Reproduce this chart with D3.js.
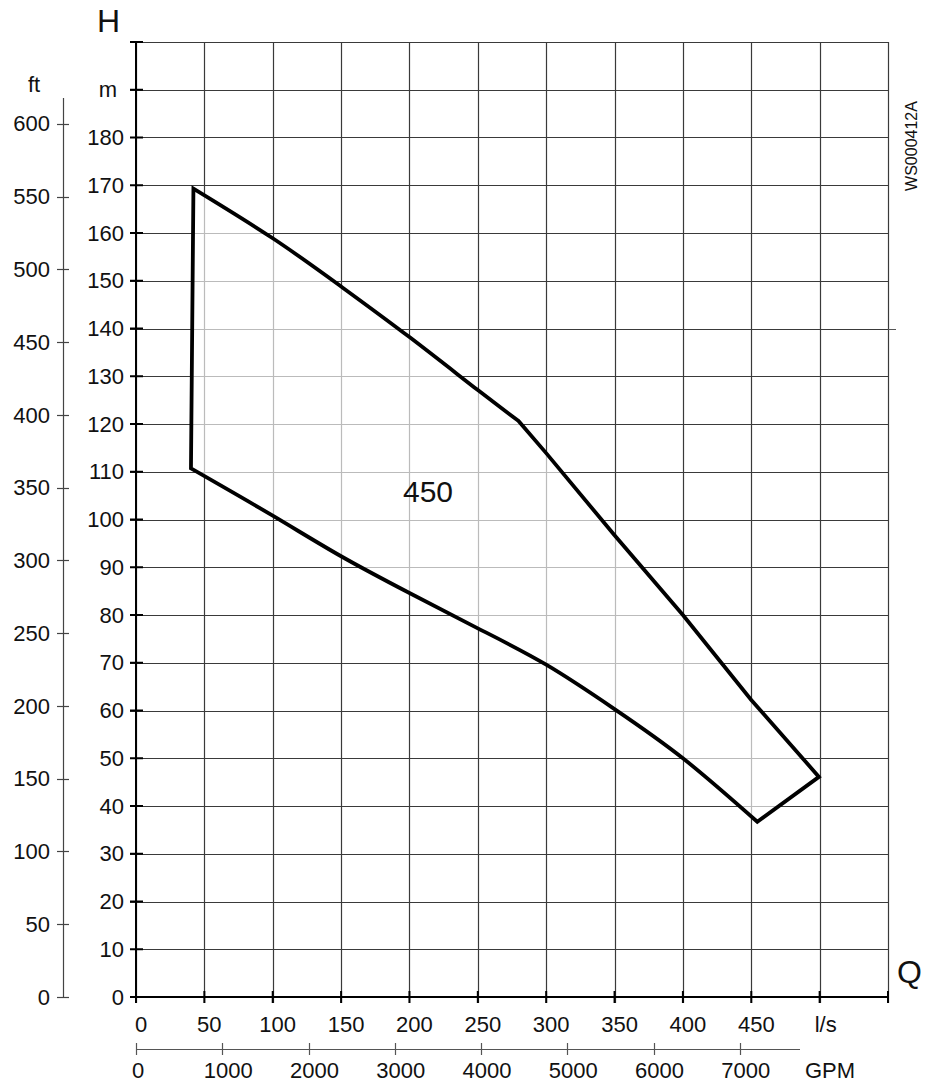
<!DOCTYPE html>
<html><head><meta charset="utf-8">
<script src="https://cdn.jsdelivr.net/npm/d3@7"></script>
<style>
html,body{margin:0;padding:0;background:#fff;}
svg text{font-family:"Liberation Sans",Arial,sans-serif;fill:#111;}
</style></head>
<body>
<svg id="chart" width="930" height="1087"></svg>
<script>
// ---- data ----
const mTicks = [0,10,20,30,40,50,60,70,80,90,100,110,120,130,140,150,160,170,180];
const ftTicks = [0,50,100,150,200,250,300,350,400,450,500,550,600];
const lsTicks = [0,50,100,150,200,250,300,350,400,450];
const gpmTicks = [0,1000,2000,3000,4000,5000,6000,7000];
const gridM = [0,10,20,30,40,50,60,70,80,90,100,110,120,130,140,150,160,170,180,190,200];
const gridLs = [0,50,100,150,200,250,300,350,400,450,500,550];
// operating range "450" outline: [l/s, m]
const leftEdge = [[40.2,110.7],[42,169.3]];
const upperEdge = [[42,169.3],[100,158.9],[150,148.8],[200,138.2],[250,127.1],[279.6,120.7]];
const rightEdge = [[279.6,120.7],[300,113.9],[350,96.7],[400,80.0],[450,62.2],[499.5,46.1]];
const bottomEdge = [[499.5,46.1],[454.4,36.7]];
const lowerEdge = [[454.4,36.7],[400,50.0],[350,60.3],[300,69.6],[250,77.2],[200,84.6],[150,92.3],[100,100.8],[40.2,110.7]];
const rangeLabel = "450";
const drawingCode = "WS000412A";

// ---- scales ----
const svg = d3.select("#chart");
const x = d3.scaleLinear().domain([0,550]).range([136,888]);
const y = d3.scaleLinear().domain([0,200]).range([997,42]);
const M_TO_FT = 1/0.3048, LS_TO_GPM = 15.8503;
const yFt = d3.scaleLinear().domain([0,200*M_TO_FT]).range([997,42]);
const xGpm = d3.scaleLinear().domain([0,550*LS_TO_GPM]).range([136,888]);

// ---- grid ----
const grid = svg.append("g");
grid.selectAll("line.h").data(gridM).join("line")
  .attr("x1",130).attr("x2",888)
  .attr("y1",d=>Math.round(y(d))+0.5).attr("y2",d=>Math.round(y(d))+0.5)
  .attr("stroke","#3a3a3a").attr("stroke-width",1.2);
grid.selectAll("line.v").data(gridLs).join("line")
  .attr("x1",d=>Math.round(x(d))+0.5).attr("x2",d=>Math.round(x(d))+0.5)
  .attr("y1",42).attr("y2",1003)
  .attr("stroke","#3a3a3a").attr("stroke-width",1.2);
svg.append("line").attr("x1",888).attr("x2",896)
  .attr("y1",Math.round(y(140))+0.5).attr("y2",Math.round(y(140))+0.5)
  .attr("stroke","#555").attr("stroke-width",1);

// ---- outline ----
const lin = d3.line().x(d=>x(d[0])).y(d=>y(d[1]));
const smooth = d3.line().x(d=>x(d[0])).y(d=>y(d[1])).curve(d3.curveNatural);
const join = s => s.replace(/^M/,"L");
const pathD = lin(leftEdge) + join(smooth(upperEdge)) + join(lin(rightEdge)) +
              join(lin(bottomEdge)) + join(smooth(lowerEdge)) + "Z";
svg.append("path").attr("d",pathD)
  .attr("fill","#fff").attr("fill-opacity",0.66)
  .attr("stroke","#000").attr("stroke-width",3.8).attr("stroke-linejoin","miter");

// ---- main axes ----
svg.append("line").attr("x1",x(0)).attr("x2",x(0)).attr("y1",41).attr("y2",1003)
  .attr("stroke","#000").attr("stroke-width",2);
svg.append("line").attr("x1",130).attr("x2",888).attr("y1",y(0)).attr("y2",y(0))
  .attr("stroke","#000").attr("stroke-width",2);
svg.selectAll("line.mt").data(gridM).join("line")
  .attr("x1",130).attr("x2",143).attr("y1",d=>y(d)).attr("y2",d=>y(d))
  .attr("stroke","#000").attr("stroke-width",2);
svg.selectAll("line.lt").data(gridLs).join("line")
  .attr("x1",d=>x(d)).attr("x2",d=>x(d)).attr("y1",991).attr("y2",1003)
  .attr("stroke","#000").attr("stroke-width",2);

// m labels
svg.selectAll("text.m").data(mTicks).join("text")
  .attr("x",124).attr("y",d=>y(d)).attr("dy","0.35em")
  .attr("text-anchor","end").attr("font-size",22).text(d=>d);
svg.append("text").attr("x",117).attr("y",y(190)).attr("dy","0.35em")
  .attr("text-anchor","end").attr("font-size",22).text("m");
svg.append("text").attr("x",97).attr("y",32).attr("font-size",32).text("H");

// l/s labels
svg.selectAll("text.ls").data(lsTicks).join("text")
  .attr("x",d=>x(d)+5).attr("y",1032)
  .attr("text-anchor","middle").attr("font-size",22).text(d=>d);
svg.append("text").attr("x",x(500)+6).attr("y",1032)
  .attr("text-anchor","middle").attr("font-size",22).text("l/s");
svg.append("text").attr("x",897).attr("y",983).attr("font-size",32).text("Q");

// ---- ft axis ----
svg.append("line").attr("x1",63.5).attr("x2",63.5).attr("y1",98).attr("y2",yFt(0))
  .attr("stroke","#444").attr("stroke-width",1.2);
svg.selectAll("line.ft").data(ftTicks).join("line")
  .attr("x1",57).attr("x2",69).attr("y1",d=>Math.round(yFt(d))+0.5).attr("y2",d=>Math.round(yFt(d))+0.5)
  .attr("stroke","#444").attr("stroke-width",1.2);
svg.selectAll("text.ft").data(ftTicks).join("text")
  .attr("x",50).attr("y",d=>yFt(d)).attr("dy","0.35em")
  .attr("text-anchor","end").attr("font-size",22).text(d=>d);
svg.append("text").attr("x",34).attr("y",y(190)).attr("dy","0.1em")
  .attr("text-anchor","middle").attr("font-size",22).text("ft");

// ---- GPM axis ----
svg.append("line").attr("x1",136).attr("x2",800).attr("y1",1049.5).attr("y2",1049.5)
  .attr("stroke","#555").attr("stroke-width",1.2);
svg.selectAll("line.gpm").data(gpmTicks).join("line")
  .attr("x1",d=>Math.round(xGpm(d))+0.5).attr("x2",d=>Math.round(xGpm(d))+0.5)
  .attr("y1",1043).attr("y2",1055)
  .attr("stroke","#555").attr("stroke-width",1.2);
svg.selectAll("text.gpm").data(gpmTicks).join("text")
  .attr("x",d=>xGpm(d)+(d===0?2:6)).attr("y",1078)
  .attr("text-anchor","middle").attr("font-size",22).text(d=>d);
svg.append("text").attr("x",830).attr("y",1078)
  .attr("text-anchor","middle").attr("font-size",22).text("GPM");

// ---- labels ----
svg.append("text").attr("x",428).attr("y",502)
  .attr("text-anchor","middle").attr("font-size",30).text(rangeLabel);
svg.append("text").attr("transform","translate(917,146) rotate(-90)")
  .attr("text-anchor","middle").attr("font-size",16).text(drawingCode);
</script>
</body></html>
